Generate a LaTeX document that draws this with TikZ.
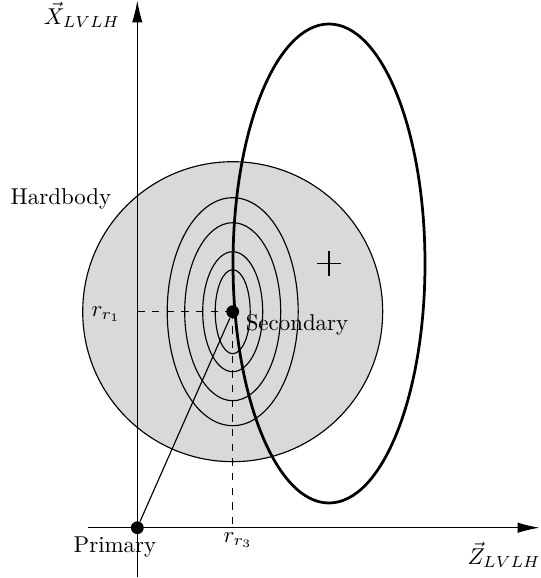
\documentclass[tikz,border=0pt]{standalone}
\usetikzlibrary{arrows.meta}
\begin{document}
\begin{tikzpicture}[x=0.4367pt,y=-0.4367pt,
  thinline/.style={line width=0.5pt},
  thickline/.style={line width=1.2pt},
  axis/.style={line width=0.5pt,-{Latex[length=9.6pt,width=4.6pt]}},
  dashline/.style={line width=0.5pt,dash pattern=on 3.2pt off 3.2pt},
  dotnode/.style={circle,fill=black,inner sep=0pt,minimum size=5.6pt},
  lbl/.style={inner sep=0pt}]
\useasboundingbox (0,0) rectangle (540,578);
% hard body disc
\coordinate (Sc) at (232.7,311.7);
\fill[gray!30] (Sc) circle[radius=65.5pt];
% axes
\coordinate (xbot) at (137.3,577);
\coordinate (xtop) at (137.3,0.5);
\coordinate (zl) at (88,527.7);
\coordinate (zr) at (539.5,527.7);
\draw[axis] (xbot) -- (xtop);
\draw[axis] (zl) -- (zr);
\draw[thinline] (Sc) circle[radius=65.5pt];
% covariance ellipses
\draw[thinline] (Sc) ellipse[x radius=7.64pt,y radius=18.34pt];
\draw[thinline] (Sc) ellipse[x radius=13.10pt,y radius=26.20pt];
\draw[thinline] (Sc) ellipse[x radius=20.96pt,y radius=38.87pt];
\draw[thinline] (Sc) ellipse[x radius=28.60pt,y radius=49.78pt];
% dashed projections
\coordinate (r1) at (137.3,311.7);
\coordinate (r3) at (232.7,527.7);
\draw[dashline] (r1) -- (Sc);
\draw[dashline] (Sc) -- (r3);
% orbit ellipse and its centre
\coordinate (Ec) at (329,263.5);
\draw[thickline] (Ec) ellipse[x radius=41.92pt,y radius=104.59pt];
\coordinate (pl) at (317,263.5);
\coordinate (pr) at (341,263.5);
\coordinate (pt) at (329,251.5);
\coordinate (pb) at (329,275.5);
\draw[thinline] (pl) -- (pr);
\draw[thinline] (pt) -- (pb);
% dots
\node[dotnode] (P) at (137.3,527.7) {};
\node[dotnode] (S) at (Sc) {};
\draw[thinline] (P) -- (S);
% labels
\node[lbl] (lx) at (82,15) {$\vec{X}_{LVLH}$};
\node[lbl] (lz) at (504,555) {$\vec{Z}_{LVLH}$};
\node[lbl] (lhb) at (61,199) {Hardbody};
\node[lbl] (lr1) at (106,314) {$r_{r_1}$};
\node[lbl] (lr3) at (238,540) {$r_{r_3}$};
\node[lbl] (lp) at (115,547) {Primary};
\node[lbl] (ls) at (297,325) {Secondary};
\end{tikzpicture}
\end{document}
